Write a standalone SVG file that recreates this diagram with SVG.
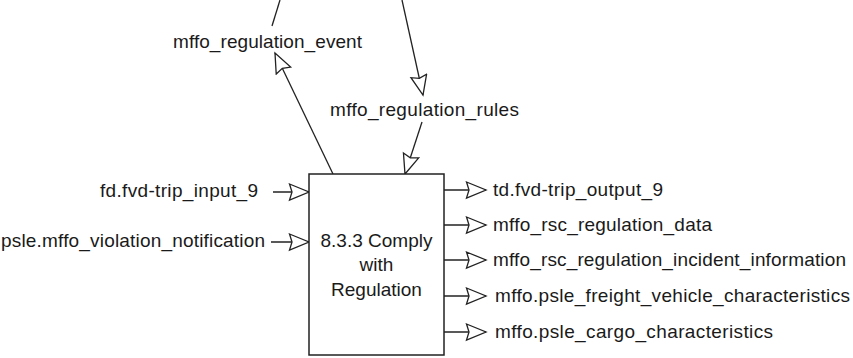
<svg xmlns="http://www.w3.org/2000/svg" width="853" height="358" viewBox="0 0 853 358">
<style>
  text { font-family: "Liberation Sans", Arial, sans-serif; font-size: 19px; fill: #1a1a1a; }
  .c { stroke: #222; stroke-width: 1.3; fill: none; }
  .a { marker-end: url(#arr); }
  .box { fill: #fff; stroke: #222; stroke-width: 1.5; }
</style>
<defs>
  <marker id="arr" markerUnits="userSpaceOnUse" markerWidth="24" markerHeight="20" refX="21" refY="9" orient="auto">
    <path d="M1.5,1 L21,9 L1.5,17 L4,9 Z" fill="#fff" stroke="#222" stroke-width="1.3" stroke-linejoin="miter"/>
  </marker>
</defs>
<rect width="853" height="358" fill="#fff"/>
<g id="connectors">
  <line class="c" x1="280" y1="0" x2="272" y2="26"/>
  <line class="c a" x1="333" y1="174" x2="275" y2="53"/>
  <line class="c a" x1="402" y1="0" x2="423" y2="95"/>
  <line class="c a" x1="422" y1="122" x2="405" y2="174"/>
  <line class="c a" x1="273" y1="192" x2="309" y2="192"/>
  <line class="c a" x1="271" y1="242" x2="309" y2="242"/>
  <line class="c a" x1="444" y1="190" x2="486" y2="190"/>
  <line class="c a" x1="444" y1="225" x2="486" y2="225"/>
  <line class="c a" x1="444" y1="260" x2="486" y2="260"/>
  <line class="c a" x1="444" y1="296" x2="486" y2="296"/>
  <line class="c a" x1="444" y1="332" x2="486" y2="332"/>
</g>
<g id="labels">
  <text x="173" y="48" textLength="189" lengthAdjust="spacing">mffo_regulation_event</text>
  <text x="330" y="116" textLength="189" lengthAdjust="spacing">mffo_regulation_rules</text>
  <text x="100" y="197" textLength="158" lengthAdjust="spacing">fd.fvd-trip_input_9</text>
  <text x="1" y="247" textLength="264" lengthAdjust="spacing">psle.mffo_violation_notification</text>
  <text x="493" y="196" textLength="170" lengthAdjust="spacing">td.fvd-trip_output_9</text>
  <text x="493" y="231" textLength="219" lengthAdjust="spacing">mffo_rsc_regulation_data</text>
  <text x="493" y="266" textLength="353" lengthAdjust="spacing">mffo_rsc_regulation_incident_information</text>
  <text x="495" y="302" textLength="355" lengthAdjust="spacing">mffo.psle_freight_vehicle_characteristics</text>
  <text x="495" y="338" textLength="278" lengthAdjust="spacing">mffo.psle_cargo_characteristics</text>
</g>
<g id="node-8.3.3">
  <rect class="box" x="309" y="174" width="135" height="181"/>
  <text x="376.5" y="247" text-anchor="middle">8.3.3 Comply</text>
  <text x="376.5" y="271" text-anchor="middle">with</text>
  <text x="376.5" y="296" text-anchor="middle">Regulation</text>
</g>
</svg>
